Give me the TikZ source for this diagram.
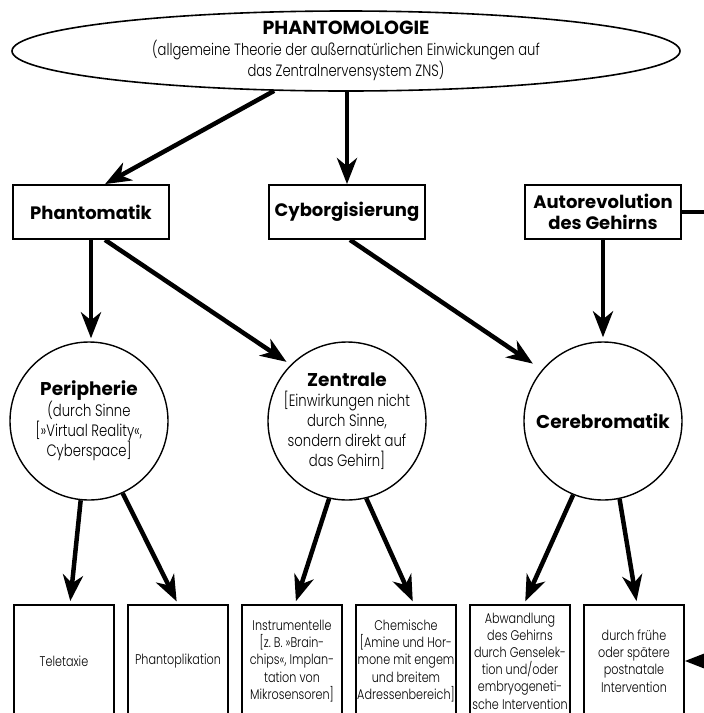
\documentclass[tikz,border=0pt]{standalone}
\usepackage{fontspec}
\setmainfont{Poppins}[UprightFont=* Light, UprightFeatures={FakeStretch=0.8}, BoldFont=* Bold]
\usetikzlibrary{positioning,arrows.meta,shapes.geometric}
\newcommand{\ttl}[1]{{\bfseries\fontsize{18.5}{22}\selectfont #1}}

\begin{document}
\begin{tikzpicture}[
   x=1pt,y=-1pt,
   node distance=12.2pt,
   topic/.style={draw,line width=1.8pt,minimum width=156pt,minimum height=54pt,inner sep=2pt,align=center,font=\bfseries\fontsize{18}{21}\selectfont},
   field/.style={circle,draw,line width=1.4pt,minimum size=158pt,inner sep=-14pt,align=center,font=\fontsize{16.5}{20}\selectfont},
   leaf/.style={draw,line width=1.8pt,minimum width=100pt,inner sep=0pt,minimum height=112pt,align=center,font=\fontsize{14}{17.2}\selectfont},
   dep/.style={-{Stealth[length=26pt,width=20pt,inset=8pt]},line width=4.5pt},
]
\clip (0,0) rectangle (704,713);
\node[ellipse,draw,line width=1.6pt,minimum width=668pt,minimum height=80pt,inner sep=-5pt,align=center,font=\fontsize{16.4}{19}\selectfont] (phan) at (346,51)
   {{\bfseries\fontsize{19}{21}\selectfont PHANTOMOLOGIE}\\[2pt](allgemeine Theorie der außernatürlichen Einwickungen auf\\das Zentralnervensystem ZNS)};

\node[topic] (phantomatik) at (91,212) {Phantomatik};
\node[topic] (cyborg) at (347,212) {Cyborgisierung};
\node[topic] (autorev) at (603,212) {Autorevolution\\des Gehirns};

\node[field] (periph) at (89,421)
   {\ttl{Peripherie}\\(durch Sinne\\{[}»Virtual Reality«,\\Cyberspace{]}};
\node[field] (zentrale) at (347,421)
   {\ttl{Zentrale}\\{[}Einwirkungen nicht\\durch Sinne,\\sondern direkt auf\\das Gehirn{]}};
\node[field] (cerebro) at (603,421) {\ttl{Cerebromatik}};

\node[leaf] (tele) at (64,661) {Teletaxie};
\node[leaf,right=of tele] (phanto) {Phantoplikation};
\node[leaf,right=of phanto] (instr)
   {Instrumentelle\\{[}z.~B. »Brain-\\chips«, Implan-\\tation von\\Mikrosensoren{]}};
\node[leaf,right=of instr] (chem)
   {Chemische\\{[}Amine und Hor-\\mone mit engem\\und breitem\\Adressenbereich{]}};
\node[leaf,right=of chem] (abw)
   {Abwandlung\\des Gehirns\\durch Genselek-\\tion und/oder\\embryogeneti-\\sche Intervention};
\node[leaf,right=of abw] (fruh)
   {durch frühe\\oder spätere\\postnatale\\Intervention};

\draw[dep] (phan.209.5) -- ([xshift=14pt]phantomatik.north);
\draw[dep] (phan.south -| cyborg) -- (cyborg.north);
\draw[dep,shorten >=3pt] (phantomatik.south) -- (phantomatik.south |- periph.north);
\draw[dep,shorten >=5pt] ([xshift=14pt]phantomatik.south) -- (zentrale.135);
\draw[dep,shorten >=11pt] ([xshift=3pt]cyborg.south) -- (cerebro.140);
\draw[dep,shorten >=4pt] (autorev.south) -- (cerebro.north);
\draw[dep,shorten >=3pt] (periph.264) -- ([xshift=6pt]tele.north);
\draw[dep,shorten >=3pt] (periph.295) -- (phanto.north);
\draw[dep,shorten >=3pt] (zentrale.257.5) -- ([xshift=3pt]instr.north);
\draw[dep,shorten >=3pt] (zentrale.284.6) -- ([xshift=8pt]chem.north);
\draw[dep,shorten >=3pt] (cerebro.248.6) -- ([xshift=4pt]abw.north);
\draw[dep,shorten >=3pt] (cerebro.282.5) -- ([xshift=3pt]fruh.north);
\draw[dep] (autorev.east) -- ++(60,0) |- (fruh.east);
\end{tikzpicture}
\end{document}
